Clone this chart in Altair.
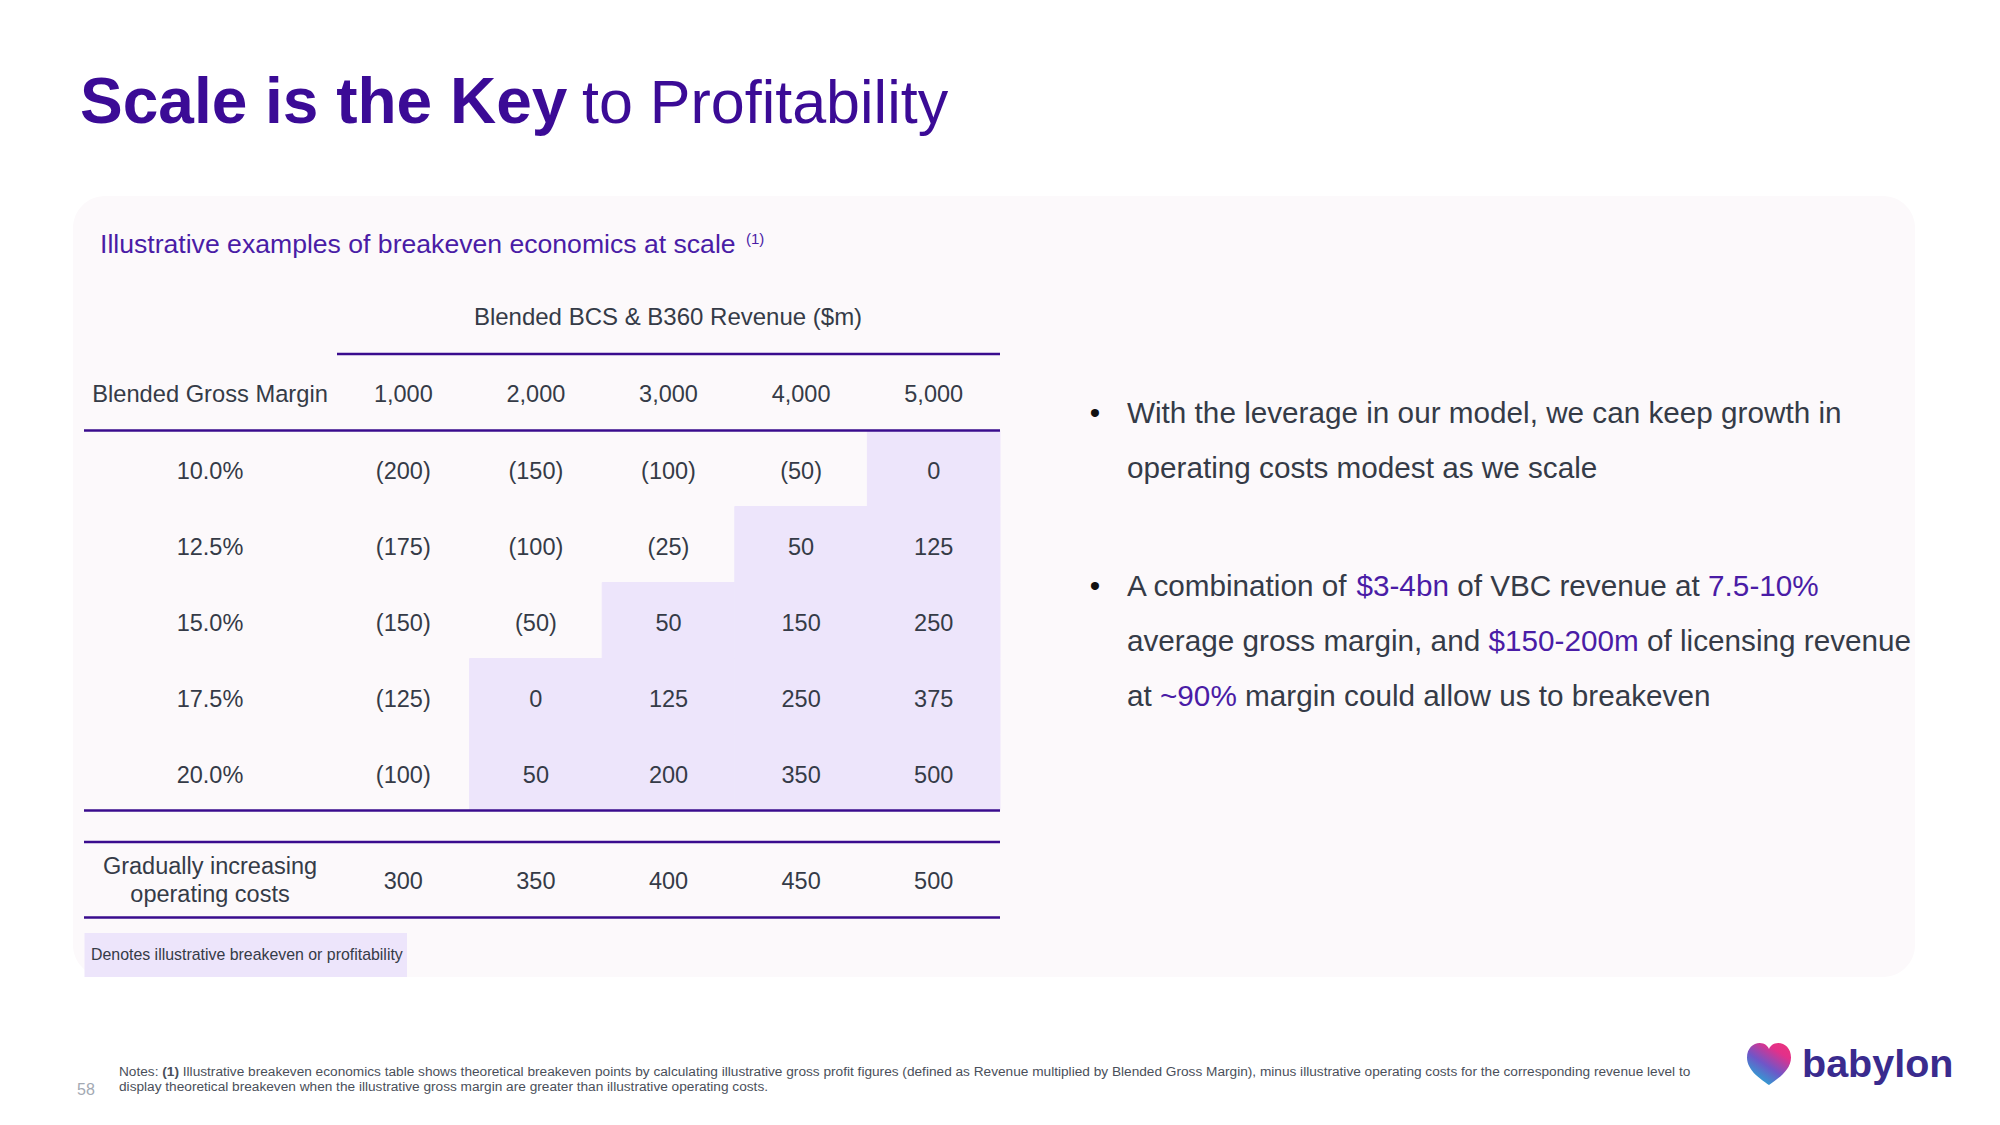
import altair as alt
import pandas as pd

# ---------------- data ----------------
revenues = ["1,000", "2,000", "3,000", "4,000", "5,000"]
margins = ["10.0%", "12.5%", "15.0%", "17.5%", "20.0%"]
profit_10 = [-200, -150, -100, -50, 0]
profit_125 = [-175, -100, -25, 50, 125]
profit_15 = [-150, -50, 50, 150, 250]
profit_175 = [-125, 0, 125, 250, 375]
profit_20 = [-100, 50, 200, 350, 500]
operating_costs = [300, 350, 400, 450, 500]

title_bold = "Scale is the Key"
title_regular = "to Profitability"
subtitle = "Illustrative examples of breakeven economics at scale"
subtitle_note = "(1)"
column_title = "Blended BCS & B360 Revenue ($m)"
row_title = "Blended Gross Margin"
cost_label = ["Gradually increasing", "operating costs"]
legend_text = "Denotes illustrative breakeven or profitability"
bullet_1 = [
    [("With the leverage in our model, we can keep growth in", False)],
    [("operating costs modest as we scale", False)],
]
bullet_2 = [
    [("A combination of ", False), ("$3-4bn", True), (" of VBC revenue at ", False), ("7.5-10%", True)],
    [("average gross margin, and ", False), ("$150-200m", True), (" of licensing revenue", False)],
    [("at ", False), ("~90%", True), (" margin could allow us to breakeven", False)],
]
notes_line_1 = [
    ("Notes: ", False),
    ("(1)", True),
    (" Illustrative breakeven economics table shows theoretical breakeven points by calculating "
     "illustrative gross profit figures (defined as Revenue multiplied by Blended Gross Margin), "
     "minus illustrative operating costs for the corresponding revenue level to", False),
]
notes_line_2 = "display theoretical breakeven when the illustrative gross margin are greater than illustrative operating costs."
page_number = "58"
logo_text = "babylon"

# ---------------- styling ----------------
FONT = "Liberation Sans"
PURPLE = "#3b0b96"
ACCENT = "#4a1ca6"
TEXT = "#353b47"
SHADE = "#ede5fb"
PANEL = "#fcf9fb"
LINE = "#3a0c8e"
M = 8  # page margin

# Arial / Liberation Sans advance widths (per 1000 em)
_REG = {' ': 278, '!': 278, '$': 556, '%': 889, '&': 667, '(': 333, ')': 333, ',': 278, '-': 333,
        '.': 278, '/': 278, ':': 278, '~': 584, '•': 350}
_REG.update({d: 556 for d in "0123456789"})
_REG.update(dict(zip("ABCDEFGHIJKLMNOPQRSTUVWXYZ",
                     [667, 667, 722, 722, 667, 611, 778, 722, 278, 500, 667, 556, 833, 722, 778, 667,
                      778, 722, 667, 611, 722, 667, 944, 667, 667, 611])))
_REG.update(dict(zip("abcdefghijklmnopqrstuvwxyz",
                     [556, 556, 500, 556, 556, 278, 556, 556, 222, 222, 500, 222, 833, 556, 556, 556,
                      556, 333, 500, 278, 556, 500, 722, 500, 500, 500])))
_BOLD = dict(_REG)
_BOLD.update(dict(zip("ABCDEFGHIJKLMNOPQRSTUVWXYZ",
                      [722, 722, 722, 722, 667, 611, 778, 722, 278, 556, 722, 611, 833, 722, 778, 667,
                       778, 722, 667, 611, 722, 667, 944, 667, 667, 611])))
_BOLD.update(dict(zip("abcdefghijklmnopqrstuvwxyz",
                      [556, 611, 556, 611, 556, 333, 611, 611, 278, 278, 556, 278, 889, 611, 611, 611,
                       611, 389, 556, 333, 611, 556, 778, 556, 556, 500])))


def text_width(s, size, bold=False):
    table = _BOLD if bold else _REG
    return sum(table.get(c, 556) for c in s) * size / 1000.0


def px(v):
    return v - M


def text_layer(s, x, y, size, color=TEXT, weight="normal", align="left", baseline="alphabetic"):
    return alt.Chart(pd.DataFrame({"label": [s]})).mark_text(
        font=FONT, fontSize=size, fontWeight=weight, color=color, align=align, baseline=baseline
    ).encode(x=alt.value(px(x)), y=alt.value(px(y)), text="label:N")


def rule_layer(x1, x2, y, color=LINE, width=2.5):
    return alt.Chart(pd.DataFrame({"k": [0]})).mark_rule(color=color, strokeWidth=width).encode(
        x=alt.value(px(x1)), x2=alt.value(px(x2)), y=alt.value(px(y)))


def box_layer(x1, x2, y1, y2, color, radius=0):
    return alt.Chart(pd.DataFrame({"k": [0]})).mark_rect(color=color, cornerRadius=radius).encode(
        x=alt.value(px(x1)), x2=alt.value(px(x2)), y=alt.value(px(y1)), y2=alt.value(px(y2)))


def segmented_line(segments, x0, y, size, base_color, hi_color, bold_flag_is_weight=False):
    out = []
    cursor = x0
    for s, flag in segments:
        lead = len(s) - len(s.lstrip(" "))
        bold = flag if bold_flag_is_weight else False
        start = cursor + lead * text_width(" ", size, bold)
        color = base_color if bold_flag_is_weight else (hi_color if flag else base_color)
        weight = "bold" if bold else "normal"
        out.append(text_layer(s.strip(" "), start, y, size, color=color, weight=weight))
        cursor += text_width(s, size, bold)
    return out


layers = []

# panel background
layers.append(box_layer(73, 1915, 196, 977, PANEL, radius=32))

# title
layers.append(text_layer(title_bold, 80, 123, 64, color=PURPLE, weight="bold"))
layers.append(text_layer(title_regular, 582, 123, 61, color=PURPLE))

# subtitle
layers.append(text_layer(subtitle, 100, 253, 26.6, color=ACCENT))
layers.append(text_layer(subtitle_note, 746, 244, 15, color=ACCENT))

# ---------------- table ----------------
rows = [profit_10, profit_125, profit_15, profit_175, profit_20]
cells = pd.DataFrame([
    {"revenue": r, "margin": m, "value": v, "label": (f"({-v})" if v < 0 else f"{v}")}
    for m, row in zip(margins, rows) for r, v in zip(revenues, row)
])

x_scale = alt.Scale(type="band", domain=revenues, range=[px(337), px(1000)], paddingInner=0, paddingOuter=0)
y_scale = alt.Scale(type="band", domain=margins, range=[px(430.5), px(810.5)], paddingInner=0, paddingOuter=0)

shade = alt.Chart(cells).transform_filter("datum.value >= 0").mark_rect(
    color=SHADE, stroke=SHADE, strokeWidth=1).encode(
    x=alt.X("revenue:N", scale=x_scale, axis=None),
    y=alt.Y("margin:N", scale=y_scale, axis=None),
)
layers.append(shade)

cell_text = alt.Chart(cells).mark_text(font=FONT, fontSize=23.5, color=TEXT, align="center",
                                       baseline="alphabetic", dy=10).encode(
    x=alt.X("revenue:N", scale=x_scale, axis=None, bandPosition=0.5),
    y=alt.Y("margin:N", scale=y_scale, axis=None, bandPosition=0.5),
    text="label:N",
)
layers.append(cell_text)

col_heads = alt.Chart(pd.DataFrame({"revenue": revenues})).mark_text(
    font=FONT, fontSize=23.5, color=TEXT, align="center", baseline="alphabetic").encode(
    x=alt.X("revenue:N", scale=x_scale, axis=None, bandPosition=0.5),
    y=alt.value(px(402)),
    text="revenue:N",
)
layers.append(col_heads)

row_heads = alt.Chart(pd.DataFrame({"margin": margins})).mark_text(
    font=FONT, fontSize=23.5, color=TEXT, align="center", baseline="alphabetic", dy=10).encode(
    x=alt.value(px(210)),
    y=alt.Y("margin:N", scale=y_scale, axis=None, bandPosition=0.5),
    text="margin:N",
)
layers.append(row_heads)

cost_row = alt.Chart(pd.DataFrame({"revenue": revenues, "cost": operating_costs})).mark_text(
    font=FONT, fontSize=23.5, color=TEXT, align="center", baseline="alphabetic").encode(
    x=alt.X("revenue:N", scale=x_scale, axis=None, bandPosition=0.5),
    y=alt.value(px(889)),
    text=alt.Text("cost:Q", format="d"),
)
layers.append(cost_row)

layers.append(text_layer(column_title, 668, 325, 24, align="center"))
layers.append(text_layer(row_title, 210, 402, 23.7, align="center"))
layers.append(text_layer(cost_label[0], 210, 874, 23.5, align="center"))
layers.append(text_layer(cost_label[1], 210, 902, 23.5, align="center"))

# table rules
layers.append(rule_layer(337, 1000, 354))
layers.append(rule_layer(84, 1000, 430.5))
layers.append(rule_layer(84, 1000, 810.5))
layers.append(rule_layer(84, 1000, 842))
layers.append(rule_layer(84, 1000, 917.5))

# legend
layers.append(box_layer(84.5, 407, 933, 977, SHADE))
layers.append(text_layer(legend_text, 91, 960, 15.9))

# ---------------- bullets ----------------
BSIZE = 29.7
for lines, baselines in ((bullet_1, [423, 478]), (bullet_2, [596, 651, 706])):
    layers.append(text_layer("•", 1095, baselines[0], BSIZE, color="#111111", align="center"))
    for segs, yb in zip(lines, baselines):
        layers.extend(segmented_line(segs, 1127, yb, BSIZE, TEXT, ACCENT))

# ---------------- notes ----------------
full_note = "".join(s for s, _ in notes_line_1)
note_size = 1572 / (sum(_REG.get(c, 556) for c in full_note) / 1000.0)
note_size = min(note_size, 14.5)
layers.extend(segmented_line(notes_line_1, 119, 1076, note_size, "#4a4f5a", "#4a4f5a", bold_flag_is_weight=True))
layers.append(text_layer(notes_line_2, 119, 1091, note_size, color="#4a4f5a"))
layers.append(text_layer(page_number, 86, 1095, 16, color="#a3a9b3", align="center"))

# ---------------- logo ----------------
HEART = ("M 0 0.95 C -0.35 0.7 -1 0.3 -1 -0.3 C -1 -0.7 -0.72 -0.95 -0.42 -0.95 "
         "C -0.2 -0.95 -0.06 -0.82 0 -0.68 C 0.06 -0.82 0.2 -0.95 0.42 -0.95 "
         "C 0.72 -0.95 1 -0.7 1 -0.3 C 1 0.3 0.35 0.7 0 0.95 Z")
heart_fill = alt.LinearGradient(
    gradient="linear",
    stops=[alt.GradientStop(color="#16bcd6", offset=0),
           alt.GradientStop(color="#6f56c8", offset=0.45),
           alt.GradientStop(color="#e3308a", offset=0.8),
           alt.GradientStop(color="#e8347f", offset=1)],
    x1=0.15, y1=1, x2=0.85, y2=0,
)
heart = alt.Chart(pd.DataFrame({"k": [0]})).mark_point(
    shape=HEART, size=1936, filled=True, fill=heart_fill, strokeWidth=0, opacity=1
).encode(x=alt.value(px(1769)), y=alt.value(px(1064)))
layers.append(heart)
layers.append(text_layer(logo_text, 1802, 1077, 39.5, color="#3a2b8e", weight="bold"))

chart = alt.layer(*layers).properties(
    width=1984, height=1109, padding=0,
    autosize=alt.AutoSizeParams(type="none"),
    background="white",
).configure_view(stroke=None)

chart.save("out.html", embed_options={"renderer": "svg", "actions": False})
